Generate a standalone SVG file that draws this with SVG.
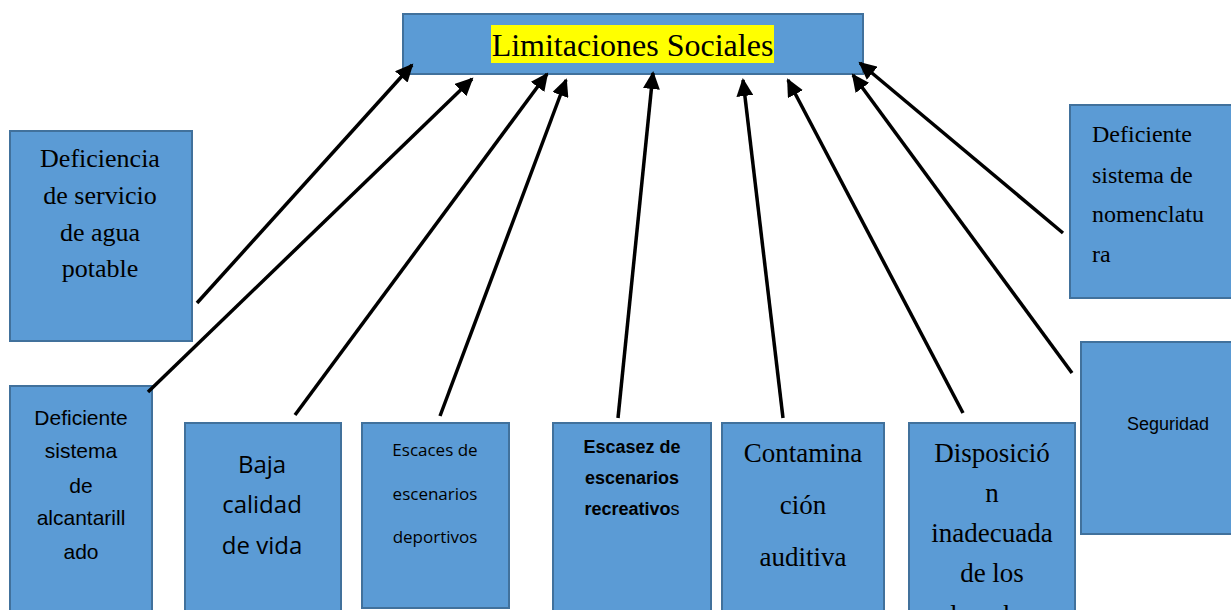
<svg xmlns="http://www.w3.org/2000/svg" width="1231" height="610" viewBox="0 0 1231 610">
<style>
.box{fill:#5B9BD5;stroke:#41719C;stroke-width:2}
.serif{font-family:"Liberation Serif","Times New Roman",serif;fill:#000}
.sans{font-family:"Liberation Sans",Arial,sans-serif;fill:#000}
.cal{font-family:"Open Sans",Lato,sans-serif;fill:#000}
.c{text-anchor:middle}
.conn line{stroke:#000;stroke-width:3.5;marker-end:url(#ah)}
</style>
<defs>
<marker id="ah" markerUnits="userSpaceOnUse" markerWidth="19" markerHeight="17" refX="16" refY="8.5" orient="auto">
<path d="M0,0 L18,8.5 L0,17 Z" fill="#000"/>
</marker>
</defs>
<rect width="1231" height="610" fill="#fff"/>
<g id="top">
<rect class="box" x="403" y="14" width="460" height="60"/>
<rect x="491" y="25" width="283" height="38" fill="#FFFF00"/>
<text class="serif c" x="632.5" y="56" font-size="32">Limitaciones Sociales</text>
</g>
<g id="agua">
<rect class="box" x="10" y="131" width="182" height="210"/>
<text class="serif c" font-size="26"><tspan x="100" y="167">Deficiencia</tspan><tspan x="100" y="204">de servicio</tspan><tspan x="100" y="241">de agua</tspan><tspan x="100" y="277">potable</tspan></text>
</g>
<g id="alcantarillado">
<rect class="box" x="10" y="386" width="142" height="230"/>
<text class="sans c" font-size="21"><tspan x="81" y="425">Deficiente</tspan><tspan x="81" y="458">sistema</tspan><tspan x="81" y="493">de</tspan><tspan x="81" y="525">alcantarill</tspan><tspan x="81" y="559">ado</tspan></text>
</g>
<g id="baja">
<rect class="box" x="185" y="423" width="156" height="195"/>
<text class="cal c" font-size="24"><tspan x="262" y="473">Baja</tspan><tspan x="262" y="513">calidad</tspan><tspan x="262" y="554">de vida</tspan></text>
</g>
<g id="deportivos">
<rect class="box" x="362" y="423" width="147" height="185"/>
<text class="cal c" font-size="17"><tspan x="435" y="456">Escaces de</tspan><tspan x="435" y="500">escenarios</tspan><tspan x="435" y="543">deportivos</tspan></text>
</g>
<g id="recreativos">
<rect class="box" x="553" y="423" width="158" height="195"/>
<text class="sans c" font-size="18" font-weight="bold"><tspan x="632" y="453">Escasez de</tspan><tspan x="632" y="484">escenarios</tspan><tspan x="632" y="515">recreativo<tspan font-weight="normal">s</tspan></tspan></text>
</g>
<g id="contaminacion">
<rect class="box" x="722" y="423" width="162" height="195"/>
<text class="serif c" font-size="27"><tspan x="803" y="462">Contamina</tspan><tspan x="803" y="514">ción</tspan><tspan x="803" y="566">auditiva</tspan></text>
</g>
<g id="disposicion">
<rect class="box" x="909" y="423" width="166" height="195"/>
<text class="serif c" font-size="27"><tspan x="992" y="462">Disposició</tspan><tspan x="992" y="502">n</tspan><tspan x="992" y="542">inadecuada</tspan><tspan x="992" y="582">de los</tspan><tspan x="992" y="624">desechos</tspan></text>
</g>
<g id="nomenclatura">
<rect class="box" x="1070" y="105" width="170" height="193"/>
<text class="serif" font-size="24"><tspan x="1092" y="142">Deficiente</tspan><tspan x="1092" y="183">sistema de</tspan><tspan x="1092" y="222">nomenclatu</tspan><tspan x="1092" y="262">ra</tspan></text>
</g>
<g id="seguridad">
<rect class="box" x="1081" y="342" width="160" height="192"/>
<text class="sans" font-size="18" x="1127" y="430">Seguridad</text>
</g>
<g id="connectors" class="conn">
<line x1="197" y1="303" x2="412" y2="65"/>
<line x1="148" y1="392" x2="472" y2="79"/>
<line x1="295" y1="415" x2="547" y2="74"/>
<line x1="440" y1="416" x2="566" y2="80"/>
<line x1="618" y1="418" x2="653" y2="73"/>
<line x1="783" y1="418" x2="743" y2="80"/>
<line x1="963" y1="413" x2="788" y2="80"/>
<line x1="1072" y1="373" x2="853" y2="75"/>
<line x1="1063" y1="233" x2="860" y2="63"/>
</g>
</svg>
